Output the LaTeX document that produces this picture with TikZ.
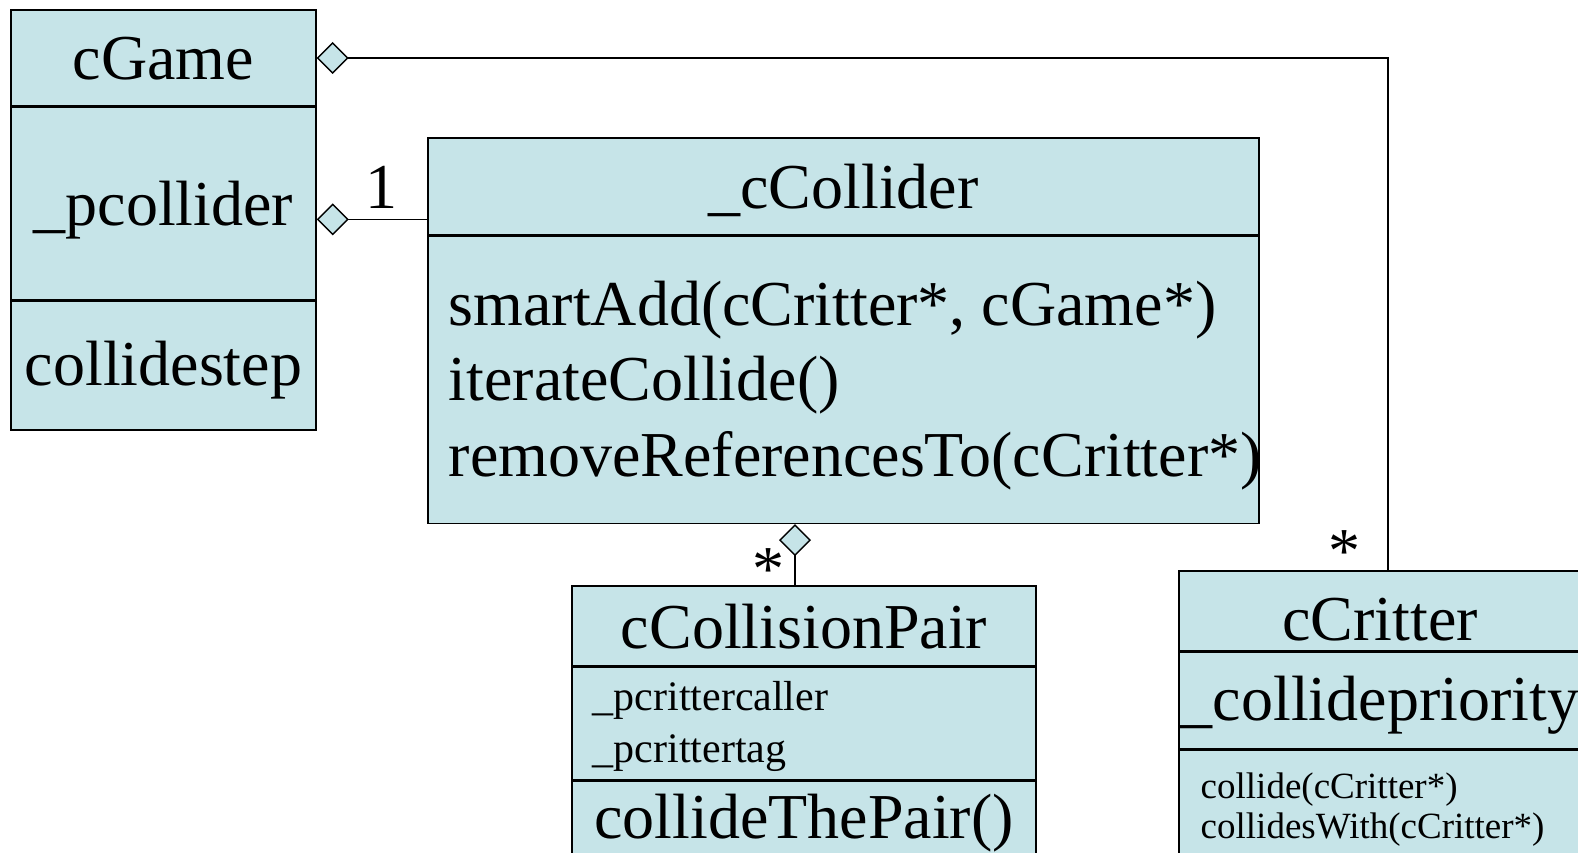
\documentclass[tikz,border=0pt]{standalone}
\usepackage{fontspec}
\setmainfont{Liberation Serif}
\usetikzlibrary{arrows.meta,positioning}
\definecolor{classfill}{RGB}{198,228,232}

\begin{document}
\begin{tikzpicture}[x=1pt, y=-1pt, line width=1.4pt, node distance=0pt,
  cell/.style={rectangle, draw, fill=classfill, inner sep=0pt},
  big/.style={inner sep=0pt, font=\fontsize{64}{76}\selectfont},
  small/.style={inner sep=0pt, font=\fontsize{42}{52}\selectfont},
  tiny/.style={inner sep=0pt, font=\fontsize{37}{44}\selectfont},
  agg/.style={{Diamond[fill=classfill, length=32pt, width=32pt]}-}]
  \clip (0,0) rectangle (1578,853);

  % cGame
  \node[cell, minimum width=305pt, minimum height=96pt] (gametitle) at (163.5,58) {};
  \node[cell, minimum width=305pt, minimum height=192pt, below=of gametitle] (gameattr) {};
  \node[cell, minimum width=305pt, minimum height=129pt, below=of gameattr] (gameops) {};
  \node[big, anchor=base] (gamename) at (163.5,80) {cGame};
  \node[big, anchor=base] (gamecoll) at (163.5,225) {\_pcollider};
  \node[big, anchor=base] (gamestep) at (163.5,385) {collidestep};

  % _cCollider
  \node[cell, minimum width=831pt, minimum height=96.5pt] (colltitle) at (843.5,186.25) {};
  \node[cell, minimum width=831pt, minimum height=287.5pt, below=of colltitle] (collops) {};
  \node[big, anchor=base] (collname) at (843.5,208) {\_cCollider};
  \node[big, anchor=base west] (smartadd) at (448,325) {smartAdd(cCritter*, cGame*)};
  \node[big, anchor=base west] (iterate) at (448,400.5) {iterateCollide()};
  \node[big, anchor=base west] (removeref) at (448,476) {removeReferencesTo(cCritter*)};

  % cCollisionPair
  \node[cell, minimum width=464pt, minimum height=80pt] (pairtitle) at (804,626) {};
  \node[cell, minimum width=464pt, minimum height=112pt, below=of pairtitle] (pairattr) {};
  \node[cell, minimum width=464pt, minimum height=122pt, below=of pairattr] (pairops) {};
  \node[big, anchor=base] (pairname) at (804,648) {cCollisionPair};
  \node[small, anchor=base west] (caller) at (592,710) {\_pcrittercaller};
  \node[small, anchor=base west] (tag) at (592,762) {\_pcrittertag};
  \node[big, anchor=base] (thepair) at (804,838) {collideThePair()};

  % cCritter
  \node[cell, minimum width=402pt, minimum height=80pt] (crittitle) at (1380,611) {};
  \node[cell, minimum width=402pt, minimum height=96pt, below=of crittitle] (critattr) {};
  \node[cell, minimum width=402pt, minimum height=153pt, below=of critattr] (critops) {};
  \node[big, anchor=base] (critname) at (1380,640) {cCritter};
  \node[big, anchor=base] (priority) at (1380,720) {\_collidepriority};
  \node[tiny, anchor=base west] (collide) at (1200,798) {collide(cCritter*)};
  \node[tiny, anchor=base west] (collwith) at (1200,838) {collidesWith(cCritter*)};

  % associations
  \coordinate (pcoll) at ([yshift=-16pt]gameattr.east);
  \coordinate (pairjoin) at ([xshift=-9pt]pairtitle.north);
  \coordinate (critjoin) at ([xshift=8pt]crittitle.north);
  \draw[agg] (gametitle.east) -| node[big, pos=0.982, left=27pt] {*} (critjoin);
  \draw[agg] (pcoll) -- node[big, pos=0.59, above=10pt] {1} (pcoll -| colltitle.west);
  \draw[agg] (pairjoin |- collops.south) -- node[big, pos=0.745, left=10pt] {*} (pairjoin);
\end{tikzpicture}
\end{document}
